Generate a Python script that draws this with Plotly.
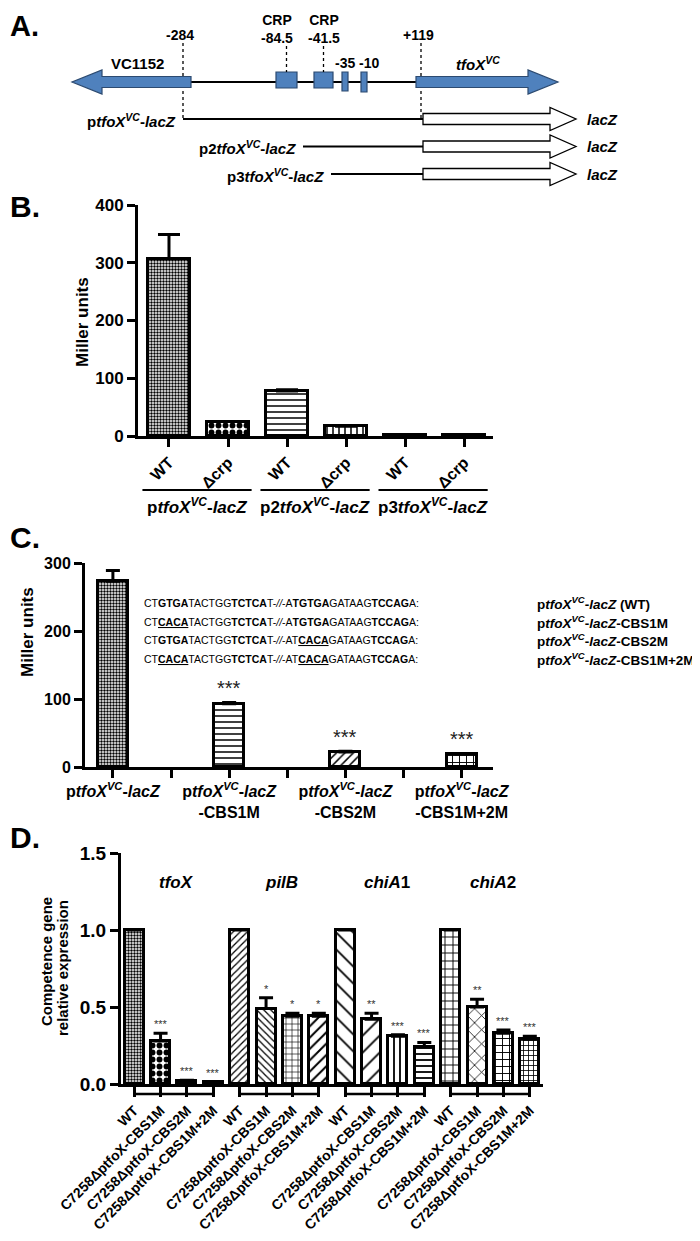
import plotly.graph_objects as go

W, H = 700, 1241
OFF = 8  # page body margin that the browser adds around the figure
FONT = "Liberation Sans, Arial, sans-serif"

# ---------------- panel A: promoter schematic (own pixel-like axes)
a_gene_names = ["VC1152", "<i>tfoX</i><sup><i>VC</i></sup>"]
a_gene_from = [191, 416]
a_gene_to = [72, 558]
a_gene_label_x = [137, 478]
a_site_labels = ["CRP<br>-84.5", "CRP<br>-41.5", "-35", "-10"]
a_site_left = [276, 314, 342, 361]
a_site_right = [297, 333, 348, 367]
a_site_bottom = [88, 88, 91, 92]
a_site_label_x = [277, 324, 345, 369]
a_site_dotted = [True, True, False, False]
a_end_labels = ["-284", "+119"]
a_end_pos = [183, 421]
a_constructs = ["p<i>tfoX</i><sup><i>VC</i></sup>-<i>lacZ</i>",
                "p2<i>tfoX</i><sup><i>VC</i></sup>-<i>lacZ</i>",
                "p3<i>tfoX</i><sup><i>VC</i></sup>-<i>lacZ</i>"]
a_construct_start = [183, 303, 331]
a_construct_row = [119, 146.5, 174]
a_lacz_from = 423
a_lacz_to = 576

# ---------------- panel B
b_x = [0, 1, 2, 3, 4, 5]
b_ticks = ["WT", "\u0394crp", "WT", "\u0394crp", "WT", "\u0394crp"]
b_values = [307, 25, 78, 17, 2, 1]
b_err = [42, 0, 2, 1, 0, 0]
b_groups = ["p<i>tfoX</i><sup><i>VC</i></sup>-<i>lacZ</i>",
            "p2<i>tfoX</i><sup><i>VC</i></sup>-<i>lacZ</i>",
            "p3<i>tfoX</i><sup><i>VC</i></sup>-<i>lacZ</i>"]
b_shapes = [".", ".", "-", "|", "-", "|"]
b_sizes = [3, 7, 6, 6, 6, 6]
b_solid = [0.5, 0.55, 0.25, 0.25, 0.25, 0.25]

# ---------------- panel C
c_x = [0, 1, 2, 3]
c_ticks = ["p<i>tfoX</i><sup><i>VC</i></sup>-<i>lacZ</i>",
           "p<i>tfoX</i><sup><i>VC</i></sup>-<i>lacZ</i><br>-CBS1M",
           "p<i>tfoX</i><sup><i>VC</i></sup>-<i>lacZ</i><br>-CBS2M",
           "p<i>tfoX</i><sup><i>VC</i></sup>-<i>lacZ</i><br>-CBS1M+2M"]
c_values = [273, 93, 22, 19]
c_err = [16, 2, 1, 1]
c_sig = ["", "***", "***", "***"]
c_shapes = [".", "-", "/", "+"]
c_sizes = [3, 6, 6, 7]
c_solid = [0.5, 0.25, 0.25, 0.25]
c_seqs = [
    "CT<b>GTGA</b>TACTGG<b>TCTCA</b>T-<i>//</i>-A<b>TGTGA</b>GATAAG<b>TCCAG</b>A:",
    "CT<b><u>CACA</u></b>TACTGG<b>TCTCA</b>T-<i>//</i>-A<b>TGTGA</b>GATAAG<b>TCCAG</b>A:",
    "CT<b>GTGA</b>TACTGG<b>TCTCA</b>T-<i>//</i>-AT<b><u>CACA</u></b>GATAAG<b>TCCAG</b>A:",
    "CT<b><u>CACA</u></b>TACTGG<b>TCTCA</b>T-<i>//</i>-AT<b><u>CACA</u></b>GATAAG<b>TCCAG</b>A:",
]
c_seq_names = ["p<i>tfoX</i><sup><i>VC</i></sup>-<i>lacZ</i> (WT)",
               "p<i>tfoX</i><sup><i>VC</i></sup>-<i>lacZ</i>-CBS1M",
               "p<i>tfoX</i><sup><i>VC</i></sup>-<i>lacZ</i>-CBS2M",
               "p<i>tfoX</i><sup><i>VC</i></sup>-<i>lacZ</i>-CBS1M+2M"]

# ---------------- panel D
d_genes = ["<i>tfoX</i>", "<i>pilB</i>", "<i>chiA</i>1", "<i>chiA</i>2"]
d_strains = ["WT", "C7258\u0394ptfoX-CBS1M", "C7258\u0394ptfoX-CBS2M", "C7258\u0394ptfoX-CBS1M+2M"]
d_values = [1.0, 0.28, 0.02, 0.01,
            1.0, 0.49, 0.44, 0.44,
            1.0, 0.42, 0.31, 0.24,
            1.0, 0.50, 0.33, 0.29]
d_err = [0, 0.05, 0.005, 0.003,
         0, 0.07, 0.02, 0.02,
         0, 0.04, 0.01, 0.03,
         0, 0.05, 0.02, 0.02]
d_sig = ["", "***", "***", "***",
         "", "*", "*", "*",
         "", "**", "***", "***",
         "", "**", "***", "***"]
d_shapes = [".", ".", ".", ".",
            "/", "\\", "+", "/",
            "\\", "/", "|", "-",
            "+", "x", "+", "+"]
d_sizes = [3, 7, 4, 4,
           5, 5, 6, 8,
           12, 12, 6, 6,
           8, 10, 7, 5]
d_solid = [0.5, 0.55, 0.5, 0.5,
           0.25, 0.25, 0.2, 0.25,
           0.15, 0.15, 0.3, 0.3,
           0.22, 0.15, 0.25, 0.3]


def px(x):
    return (x - OFF) / W


def py(y):
    return 1 - (y - OFF) / H


def arrow_path(x0, x1, yc, shaft, head, head_len):
    d = 1 if x1 > x0 else -1
    xb = x1 - d * head_len
    return (f"M{x0},{yc - shaft} L{xb},{yc - shaft} L{xb},{yc - head} L{x1},{yc} "
            f"L{xb},{yc + head} L{xb},{yc + shaft} L{x0},{yc + shaft} Z")


fig = go.Figure()
shapes = []
annotations = []


def note(text, x, y, size, xref="paper", yref="paper", **kw):
    kw.setdefault("showarrow", False)
    kw.setdefault("xanchor", "center")
    kw.setdefault("yanchor", "middle")
    font = dict(family=FONT, size=size, color=kw.pop("color", "black"),
                weight=kw.pop("weight", "bold"))
    annotations.append(dict(text=text, x=x, y=y, xref=xref, yref=yref, font=font, **kw))


# ---- panel A
AX, AY = "x4", "y4"
main_y = 82
shapes.append(dict(type="line", xref=AX, yref=AY, x0=a_gene_from[0], x1=a_gene_from[1],
                   y0=main_y, y1=main_y, line=dict(color="black", width=2)))
for x in a_end_pos:
    shapes.append(dict(type="line", xref=AX, yref=AY, x0=x, x1=x, y0=43, y1=120,
                       line=dict(color="black", width=1.3, dash="dot")))
for name, x0, x1, lx in zip(a_gene_names, a_gene_from, a_gene_to, a_gene_label_x):
    shapes.append(dict(type="path", xref=AX, yref=AY, path=arrow_path(x0, x1, main_y, 5.5, 12, 30),
                       fillcolor="#4f81bd", line=dict(color="#2c4a70", width=1.2)))
    note(name, lx, 63, 15, AX, AY)
for lab, l, r, b, lx, dot in zip(a_site_labels, a_site_left, a_site_right, a_site_bottom,
                                 a_site_label_x, a_site_dotted):
    shapes.append(dict(type="rect", xref=AX, yref=AY, x0=l, x1=r, y0=72, y1=b,
                       fillcolor="#4f81bd", line=dict(color="#2c4a70", width=1.2)))
    if dot:
        cx = (l + r) / 2
        shapes.append(dict(type="line", xref=AX, yref=AY, x0=cx, x1=cx, y0=46, y1=72,
                           line=dict(color="black", width=1.3, dash="dot")))
        note(lab, lx, 28.5, 14, AX, AY)
    else:
        note(lab, lx, 63, 14, AX, AY)
for lab, x in zip(a_end_labels, a_end_pos):
    note(lab, x - 3, 35, 14, AX, AY)
for lab, x0, yr in zip(a_constructs, a_construct_start, a_construct_row):
    shapes.append(dict(type="line", xref=AX, yref=AY, x0=x0, x1=a_lacz_from, y0=yr, y1=yr,
                       line=dict(color="black", width=2)))
    shapes.append(dict(type="path", xref=AX, yref=AY,
                       path=arrow_path(a_lacz_from, a_lacz_to, yr, 5.5, 11.5, 26),
                       fillcolor="white", line=dict(color="black", width=1.3)))
    note(lab, x0 - 5, yr + 1, 15, AX, AY, xanchor="right")
    note("<i>lacZ</i>", a_lacz_to + 9, yr, 15, AX, AY, xanchor="left")

# ---- panel letters
note("A.", px(8), 1, 29, xanchor="left", yanchor="top")
for lab, y in zip(["B.", "C.", "D."], [207, 538, 837]):
    note(lab, px(8), py(y), 30, xanchor="left")

err_style = dict(color="black", thickness=3)
bar_line = dict(color="black", width=3)

# ---- panel B
fig.add_trace(go.Bar(
    x=b_x, y=b_values, width=0.7, xaxis="x", yaxis="y",
    marker=dict(color="white", line=bar_line,
                pattern=dict(shape=b_shapes, size=b_sizes, solidity=b_solid,
                             fgcolor="black", bgcolor="white", fillmode="replace")),
    error_y=dict(type="data", array=b_err, arrayminus=[0] * len(b_err), symmetric=False,
                 width=11, **err_style),
))
for g, lab in enumerate(b_groups):
    mid = b_x[2 * g] + 0.5
    shapes.append(dict(type="line", xref="x", yref="paper", x0=mid - 0.95, x1=mid + 0.9,
                       y0=py(490), y1=py(490), line=dict(color="black", width=2)))
    note(lab, mid - 0.03, py(506), 17, xref="x")
note("Miller units", px(82), py(322), 17, textangle=-90)

# ---- panel C
fig.add_trace(go.Bar(
    x=c_x, y=c_values, width=0.26, xaxis="x2", yaxis="y2",
    marker=dict(color="white", line=bar_line,
                pattern=dict(shape=c_shapes, size=c_sizes, solidity=c_solid,
                             fgcolor="black", bgcolor="white", fillmode="replace")),
    error_y=dict(type="data", array=c_err, arrayminus=[0] * len(c_err), symmetric=False,
                 width=7, **err_style),
))
for x, v, e, s in zip(c_x, c_values, c_err, c_sig):
    if s:
        note(s, x, v + e, 20, "x2", "y2", yanchor="bottom", yshift=1, weight="normal",
             color="#222")
for i, (seq, name) in enumerate(zip(c_seqs, c_seq_names)):
    y = 603 + i * 18.5
    note(seq, px(142), py(y), 10.5, xanchor="left", weight="normal")
    note(name, px(535), py(y), 13.5, xanchor="left")
note("Miller units", px(27), py(632), 17, textangle=-90)
c_tickvals, c_ticktext = [], []
for x, t in zip(c_x, c_ticks):
    c_tickvals += [x, x + 0.5]
    c_ticktext += [t, ""]

# ---- panel D
d_x = list(range(len(d_values)))
fig.add_trace(go.Bar(
    x=d_x, y=d_values, width=0.72, xaxis="x3", yaxis="y3",
    marker=dict(color="white", line=bar_line,
                pattern=dict(shape=d_shapes, size=d_sizes, solidity=d_solid,
                             fgcolor="black", bgcolor="white", fillmode="replace")),
    error_y=dict(type="data", array=d_err, arrayminus=[0] * len(d_err), symmetric=False,
                 width=7, **err_style),
))
for x, v, e, s in zip(d_x, d_values, d_err, d_sig):
    if s:
        note(s, x, v + e, 11, "x3", "y3", yanchor="bottom", yshift=1, weight="normal",
             color="#333")
n_per = len(d_strains)
for g, gene in enumerate(d_genes):
    first = g * n_per
    note(gene, first + 1.6, 1.31, 17, "x3", "y3")
    shapes.append(dict(type="line", xref="x3", yref="paper", x0=first, x1=first + n_per - 1,
                       y0=py(1084) - 10 / H, y1=py(1084) - 10 / H,
                       line=dict(color="black", width=2.5)))
note("Competence gene", px(46), py(962), 15, textangle=-90)
note("relative expression", px(62), py(968), 15, textangle=-90)

# ---- axes
axis_common = dict(showline=True, linecolor="black", linewidth=3, ticks="outside",
                   tickcolor="black", tickwidth=2.5, showgrid=False, zeroline=False,
                   fixedrange=True, automargin=False)


def tfont(size):
    return dict(family=FONT, size=size, color="black", weight="bold")


fig.update_layout(
    width=W, height=H, autosize=False,
    margin=dict(l=0, r=0, t=0, b=0, pad=0, autoexpand=False),
    paper_bgcolor="white", plot_bgcolor="white", showlegend=False, bargap=0,
    xaxis=dict(domain=[px(138), px(493)], range=[-0.525, 5.49], anchor="y",
               tickvals=b_x, ticktext=b_ticks, tickangle=-45, ticklen=8,
               tickfont=tfont(16), **axis_common),
    yaxis=dict(domain=[py(436), py(205)], range=[0, 400], anchor="x",
               tickvals=[0, 100, 200, 300, 400], ticklen=8, tickfont=tfont(17), **axis_common),
    xaxis2=dict(domain=[px(85), px(493)], range=[-0.24, 3.27], anchor="y2",
                tickvals=c_tickvals, ticktext=c_ticktext, tickangle=0, ticklen=8,
                tickfont=tfont(16), **axis_common),
    yaxis2=dict(domain=[py(767), py(563)], range=[0, 300], anchor="x2",
                tickvals=[0, 100, 200, 300], ticklen=8, tickfont=tfont(16), **axis_common),
    xaxis3=dict(domain=[px(121), px(543)], range=[-0.5, 15.5], anchor="y3",
                tickvals=d_x, ticktext=d_strains * len(d_genes), tickangle=-45, ticklen=10,
                tickfont=tfont(14), **axis_common),
    yaxis3=dict(domain=[py(1084), py(853)], range=[0, 1.5], anchor="x3",
                tickvals=[0, 0.5, 1.0, 1.5], tickformat=".1f", ticklen=8,
                tickfont=tfont(19), **axis_common),
    xaxis4=dict(domain=[0, 1], range=[OFF, W + OFF], visible=False, fixedrange=True,
                anchor="y4"),
    yaxis4=dict(domain=[py(195), 1], range=[195, OFF], visible=False, fixedrange=True,
                anchor="x4"),
    shapes=shapes,
    annotations=annotations,
)

fig.write_html("out.html")
